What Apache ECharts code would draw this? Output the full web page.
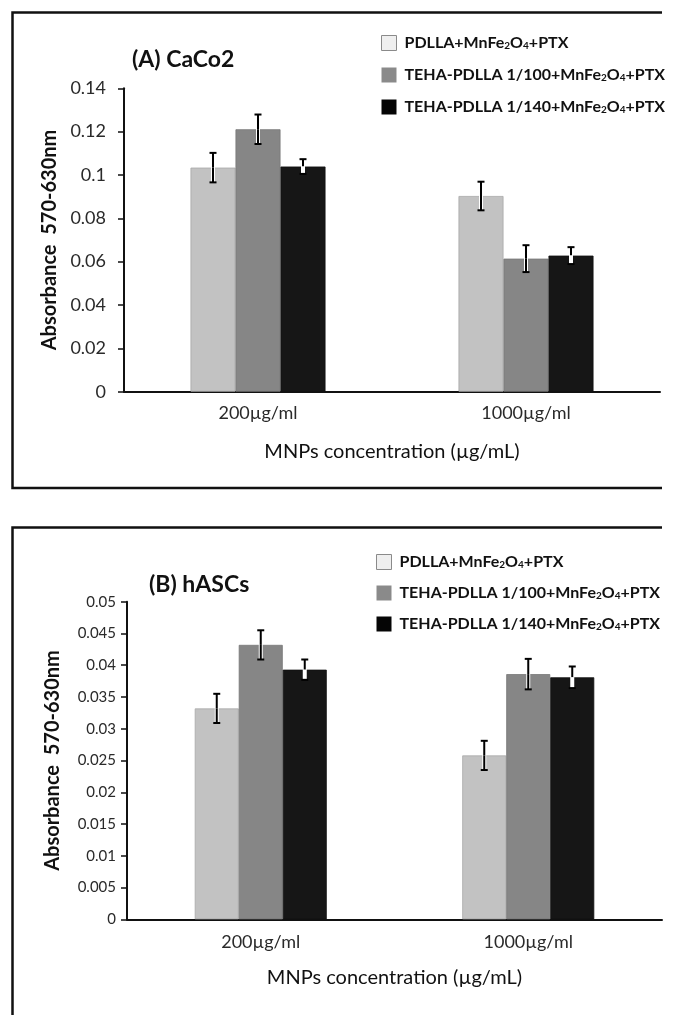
<!DOCTYPE html>
<html>
<head>
<meta charset="utf-8">
<script src="https://cdn.jsdelivr.net/npm/echarts@6/dist/echarts.min.js"></script>
<style>html,body{margin:0;padding:0;background:#fff;}#c{width:673px;height:1015px;}</style>
</head>
<body>
<div id="c"></div>
<script>
// ---- data ----
const categories = ['200\u00b5g/ml', '1000\u00b5g/ml'];
const seriesNames = ['PDLLA+MnFe2O4+PTX', 'TEHA-PDLLA 1/100+MnFe2O4+PTX', 'TEHA-PDLLA 1/140+MnFe2O4+PTX'];
// Panel A: CaCo2
const caco2_pdlla = [0.1034, 0.0903];
const caco2_teha100 = [0.1211, 0.0614];
const caco2_teha140 = [0.1039, 0.0628];
const caco2_pdlla_err = [0.0068, 0.0066];
const caco2_teha100_err = [0.0068, 0.0062];
const caco2_teha140_err = [0.0034, 0.0039];
// Panel B: hASCs
const hascs_pdlla = [0.0332, 0.0258];
const hascs_teha100 = [0.0432, 0.0386];
const hascs_teha140 = [0.0393, 0.0381];
const hascs_pdlla_err = [0.0023, 0.0023];
const hascs_teha100_err = [0.0023, 0.0024];
const hascs_teha140_err = [0.0016, 0.0017];
const yTicksA = {min: 0, max: 0.14, interval: 0.02};
const yTicksB = {min: 0, max: 0.05, interval: 0.005};

// ---- styles ----
const FONT = 'Lato';
const barColors = ['#c2c2c2', '#868686', '#161616'];
const legendIconColors = ['#efefef', '#8a8a8a', '#050505'];

const chart = echarts.init(document.getElementById('c'), null, {renderer: 'canvas'});

function legendFormatter(name) {
  const m = name.split('MnFe2O4');
  return '{a|' + m[0] + 'MnFe}{s|2}{a|O}{s|4}{a|' + m[1] + '}';
}
const legendRich = {
  a: {fontFamily: FONT, fontWeight: 'bold', fontSize: 16, color: '#111', lineHeight: 16},
  s: {fontFamily: FONT, fontWeight: 'bold', fontSize: 10, color: '#111', lineHeight: 9, verticalAlign: 'bottom'}
};
function makeLegend(left, top, gap) {
  return {
    orient: 'vertical', left: left, top: top,
    itemWidth: 15, itemHeight: 15, itemGap: gap,
    selectedMode: false,
    data: seriesNames.map((n, i) => ({
      name: n, icon: 'rect',
      itemStyle: {color: legendIconColors[i], borderColor: i === 0 ? '#8a8a8a' : legendIconColors[i], borderWidth: i === 0 ? 1 : 0}
    })),
    formatter: legendFormatter,
    textStyle: {rich: legendRich, padding: [0, 0, 0, 3]}
  };
}

function makeBars(gi, vals, barW) {
  return vals.map((v, i) => ({
    name: seriesNames[i], type: 'bar', xAxisIndex: gi, yAxisIndex: gi,
    data: v, barWidth: barW, barGap: '0%',
    itemStyle: {color: barColors[i], borderColor: i === 0 ? '#a8a8a8' : (i === 1 ? '#777' : '#111'), borderWidth: 0.8},
    emphasis: {disabled: true}, z: 2
  }));
}
function makeErr(gi, vals, errs, barW) {
  return vals.map((v, i) => {
    const offset = (i - 1) * barW;
    return {
      name: 'err' + gi + '_' + i, type: 'custom', xAxisIndex: gi, yAxisIndex: gi, z: 5,
      data: v.map((val, k) => [k, val, errs[i][k]]),
      renderItem: function (params, api) {
        const k = api.value(0), val = api.value(1), e = api.value(2);
        const c = api.coord([k, val]);
        const t = api.coord([k, val + e]);
        const b = api.coord([k, val - e]);
        const x = c[0] + offset;
        const capW = 3.5;
        const under = {stroke: '#fff', lineWidth: 4};
        const over = {stroke: '#000', lineWidth: 2};
        return {
          type: 'group',
          children: [
            {type: 'line', shape: {x1: x, y1: t[1], x2: x, y2: b[1]}, style: under},
            {type: 'line', shape: {x1: x, y1: c[1], x2: x, y2: t[1]}, style: over},
            {type: 'line', shape: {x1: x, y1: c[1], x2: x, y2: b[1]}, style: {stroke: i === 2 ? '#fff' : '#000', lineWidth: 2}},
            {type: 'line', shape: {x1: x - capW, y1: t[1], x2: x + capW, y2: t[1]}, style: over},
            {type: 'line', shape: {x1: x - capW, y1: b[1], x2: x + capW, y2: b[1]}, style: over}
          ]
        };
      }
    };
  });
}

function xAxis(gi, margin, nameGap) {
  return {
    type: 'category', gridIndex: gi, data: categories,
    axisLine: {lineStyle: {color: '#111', width: 2}},
    axisTick: {show: false},
    axisLabel: {fontFamily: FONT, fontSize: 18, color: '#2a2a2a', margin: margin},
    name: 'MNPs concentration (\u00b5g/mL)', nameLocation: 'middle', nameGap: nameGap,
    nameTextStyle: {fontFamily: FONT, fontSize: 20, color: '#111'}
  };
}
function yAxis(gi, t, fs, margin) {
  return {
    type: 'value', gridIndex: gi, min: t.min, max: t.max, interval: t.interval,
    splitLine: {show: false},
    axisLine: {show: true, lineStyle: {color: '#111', width: 2}},
    axisTick: {show: true, length: 6, lineStyle: {color: '#111', width: 1.5}},
    axisLabel: {fontFamily: FONT, fontSize: fs, color: '#2a2a2a', margin: margin},
    name: 'Absorbance  570-630nm', nameLocation: 'middle', nameGap: 64, nameRotate: 90,
    nameTextStyle: {fontFamily: FONT, fontSize: 20, fontWeight: 'bold', color: '#111'}
  };
}

const option = {
  animation: false,
  backgroundColor: '#fff',
  title: [
    {text: '(A) CaCo2', left: 127, top: 43, textStyle: {fontFamily: FONT, fontSize: 23, fontWeight: 'bold', color: '#111'}},
    {text: '(B) hASCs', left: 144, top: 568, textStyle: {fontFamily: FONT, fontSize: 23, fontWeight: 'bold', color: '#111'}}
  ],
  legend: [makeLegend(376, 30, 16), makeLegend(371, 549, 15)],
  grid: [
    {left: 124, right: 13, top: 88.3, height: 303.4},
    {left: 127, right: 11, top: 601.7, height: 317.6}
  ],
  xAxis: [xAxis(0, 12, 50), xAxis(1, 14, 48)],
  yAxis: [yAxis(0, yTicksA, 18, 18), yAxis(1, yTicksB, 15, 11)],
  series: [].concat(
    makeBars(0, [caco2_pdlla, caco2_teha100, caco2_teha140], 45),
    makeBars(1, [hascs_pdlla, hascs_teha100, hascs_teha140], 44),
    makeErr(0, [caco2_pdlla, caco2_teha100, caco2_teha140], [caco2_pdlla_err, caco2_teha100_err, caco2_teha140_err], 45),
    makeErr(1, [hascs_pdlla, hascs_teha100, hascs_teha140], [hascs_pdlla_err, hascs_teha100_err, hascs_teha140_err], 44)
  ),
  graphic: [
    {type: 'polyline', shape: {points: [[662, 12.5], [12.5, 12.5], [12.5, 488], [662, 488]]}, style: {stroke: '#111', lineWidth: 2.5, fill: null}, silent: true},
    {type: 'polyline', shape: {points: [[662, 527.5], [12.5, 527.5], [12.5, 1016]]}, style: {stroke: '#111', lineWidth: 2.5, fill: null}, silent: true}
  ]
};
chart.setOption(option);
</script>
</body>
</html>
